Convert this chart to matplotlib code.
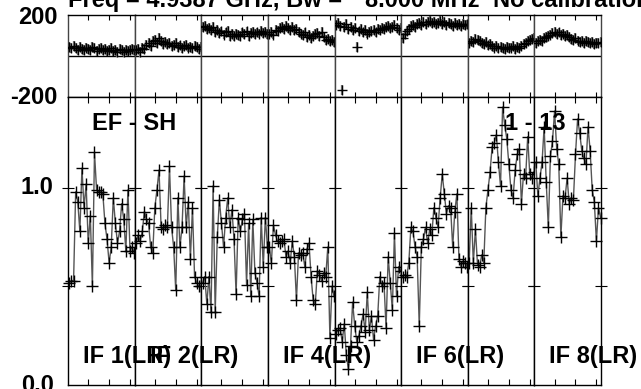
import matplotlib
matplotlib.use("Agg")
import matplotlib.pyplot as plt
import numpy as np

plt.rcParams['font.family'] = ['Liberation Sans', 'DejaVu Sans']

# ---------------- data ----------------
channels = list(range(1, 33))
if_labels = ["IF 1(LR)", "IF 2(LR)", "", "IF 4(LR)", "", "IF 6(LR)", "", "IF 8(LR)"]

amp_if1 = [0.52, 0.53, 0.53, 0.98, 0.93, 0.78, 1.10, 0.90, 1.02, 0.72, 0.86, 0.50, 1.18, 0.99, 0.98, 0.98,
           0.97, 0.82, 0.74, 0.62, 0.70, 0.95, 0.82, 0.72, 0.78, 0.92, 0.84, 0.68, 0.99, 0.68, 0.70, 0.67]
amp_if2 = [0.72, 0.76, 0.73, 0.78, 0.88, 0.84, 0.82, 0.70, 0.67, 0.90, 0.99, 1.09, 0.80, 0.79, 0.81, 0.80,
           1.11, 0.80, 0.70, 0.48, 0.95, 0.70, 0.80, 1.06, 0.80, 0.93, 0.64, 0.90, 0.55, 0.52, 0.50, 0.50]
amp_if3 = [0.52, 0.55, 0.41, 0.55, 0.37, 1.01, 0.37, 0.75, 0.94, 0.82, 0.70, 0.85, 0.95, 0.80, 0.89, 0.74,
           0.46, 0.85, 0.78, 0.84, 0.87, 0.51, 0.82, 0.45, 0.84, 0.57, 0.52, 0.45, 0.85, 0.60, 0.85, 0.70]
amp_if4 = [0.70, 0.62, 0.81, 0.76, 0.73, 0.72, 0.73, 0.74, 0.65, 0.68, 0.62, 0.73, 0.65, 0.43, 0.67, 0.66,
           0.67, 0.60, 0.69, 0.72, 0.55, 0.43, 0.41, 0.58, 0.56, 0.53, 0.57, 0.55, 0.70, 0.24, 0.50, 0.45]
amp_if5 = [0.26, 0.28, 0.29, 0.22, 0.31, 0.15, 0.08, 0.20, 0.42, 0.30, 0.22, 0.25, 0.30, 0.36, 0.27, 0.47,
           0.28, 0.35, 0.23, 0.30, 0.35, 0.55, 0.50, 0.52, 0.29, 0.65, 0.52, 0.38, 0.77, 0.45, 0.60, 0.58]
amp_if6 = [0.55, 0.56, 0.55, 0.62, 0.80, 0.78, 0.70, 0.65, 0.30, 0.70, 0.74, 0.80, 0.72, 0.79, 0.76, 0.90,
           0.85, 0.80, 0.95, 1.07, 0.97, 0.87, 0.91, 0.90, 0.70, 0.88, 0.97, 0.64, 0.60, 0.63, 0.62, 0.60]
amp_if7 = [0.62, 0.90, 0.62, 0.79, 0.61, 0.60, 0.66, 0.62, 0.90, 0.99, 1.08, 1.21, 1.23, 1.27, 1.13, 1.01,
           1.41, 1.32, 1.25, 1.12, 0.99, 0.95, 1.09, 1.17, 1.20, 0.92, 1.07, 1.05, 1.26, 1.07, 1.05, 1.08]
amp_if8 = [1.13, 0.96, 1.05, 1.13, 1.31, 1.03, 0.80, 1.16, 1.24, 1.39, 1.20, 1.12, 0.75, 0.96, 0.95, 1.05,
           0.92, 0.95, 0.94, 1.17, 1.35, 1.28, 1.19, 1.15, 1.12, 1.31, 1.19, 0.99, 0.93, 0.73, 0.90, 0.85]

ph_if1 = [45, 38, 50, 40, 32, 44, 36, 28, 42, 35, 30, 46, 38, 27, 33, 40, 29, 36, 24, 31, 38, 26, 30, 22, 34, 28, 20, 32, 25, 30, 36, 28]
ph_if2 = [28, 35, 22, 40, 33, 55, 62, 48, 75, 80, 66, 88, 72, 60, 70, 58, 64, 50, 56, 62, 45, 52, 40, 48, 55, 42, 46, 38, 50, 44, 36, 45]
ph_if3 = [140, 148, 130, 135, 125, 142, 118, 128, 112, 120, 105, 115, 122, 100, 108, 96, 110, 104, 98, 115, 108, 120, 100, 112, 118, 106, 115, 110, 122, 112, 118, 108]
ph_if4 = [110, 118, 105, 128, 122, 135, 142, 130, 148, 138, 128, 140, 125, 132, 118, 110, 102, 115, 95, 105, 88, 96, 108, 112, 100, 118, 92, 80, 85, 72, 78, 68]
ph_if5 = [150, 162, 145, -165, 140, 155, 132, 142, 128, 135, 45, 120, 130, 115, 125, 110, 118, 122, 128, 115, 130, 125, 138, 132, 140, 145, 135, 142, 150, 138, 128, 135]
ph_if6 = [90, 108, 120, 132, 145, 150, 140, 158, 162, 150, 168, 158, 165, 172, 160, 166, 155, 162, 170, 158, 164, 152, 160, 156, 148, 162, 150, 155, 145, 158, 150, 154]
ph_if7 = [62, 75, 70, 82, 78, 72, 65, 58, 68, 52, 60, 48, 42, 50, 38, 45, 40, 35, 44, 38, 42, 48, 36, 44, 40, 50, 58, 66, 72, 78, 85, 90]
ph_if8 = [65, 72, 80, 75, 88, 92, 98, 105, 112, 118, 108, 115, 102, 110, 98, 104, 92, 85, 80, 88, 76, 70, 74, 66, 72, 68, 62, 70, 60, 66, 62, 68]

amps = [amp_if1, amp_if2, amp_if3, amp_if4, amp_if5, amp_if6, amp_if7, amp_if8]
phases = [ph_if1, ph_if2, ph_if3, ph_if4, ph_if5, ph_if6, ph_if7, ph_if8]
phase_err = 24

title_a = "Freq = 4.9387 GHz, Bw ="
title_b = "8.000 MHz"
title_c = "No calibration applied"
baseline_label = "EF - SH"
time_label = "1 - 13"

# ---------------- layout ----------------
W, H = 641, 389
fig = plt.figure(figsize=(W / 100, H / 100), dpi=100)

def fx(x):
    return x / W

def fy(y):
    return 1 - y / H

x0, pw = 68.0, (601.0 - 68.0) / 8
ph_top, ph_bot, amp_bot = 15.0, 97.3, 385.0
xlim = (0.33, 32.2)
FS = 17

for i in range(8):
    left = x0 + i * pw
    axp = fig.add_axes([fx(left), fy(ph_bot), pw / W, (ph_bot - ph_top) / H])
    axa = fig.add_axes([fx(left), fy(amp_bot), pw / W, (amp_bot - ph_bot) / H])

    # phase panel
    axp.set_xlim(*xlim)
    axp.set_ylim(-200, 200)
    axp.axhline(0, color='black', lw=1.0)
    axp.errorbar(channels, phases[i], yerr=phase_err, fmt='none', ecolor='#7a7a7a', elinewidth=1.6, zorder=2)
    axp.plot(channels, phases[i], '+', color='black', ms=7, mew=1.0, zorder=3)
    axp.set_xticks([10, 20, 30])
    axp.set_yticks([])
    axp.tick_params(axis='x', which='both', direction='in', length=3.5, width=0.8,
                    top=True, bottom=True, labelbottom=False)
    for s in axp.spines.values():
        s.set_color('#444444')
        s.set_linewidth(1.0)
    axp.spines['top'].set_color('black')
    axp.spines['bottom'].set_color('black')

    # amplitude panel
    axa.set_xlim(*xlim)
    axa.set_ylim(0, 1.46)
    axa.plot(channels, amps[i], '-', color='#555555', lw=1.0, zorder=2)
    axa.plot(channels, amps[i], '+', color='black', ms=8, mew=1.0, zorder=3, clip_on=False)
    axa.set_xticks([10, 20, 30])
    axa.set_yticks([0.5, 1.0])
    axa.tick_params(axis='x', direction='in', length=4.5, width=0.8, top=True, bottom=True,
                    labelbottom=False)
    axa.tick_params(axis='y', direction='inout', length=8, width=0.8, left=True, right=True,
                    labelleft=False)
    for s in axa.spines.values():
        s.set_color('black')
        s.set_linewidth(1.0)

    if if_labels[i]:
        fig.text(fx(left + 15), fy(357), if_labels[i], fontsize=FS, fontweight='bold',
                 ha='left', va='center', zorder=10)

# axis value labels
fig.text(fx(57.5), fy(18), "200", fontsize=FS, fontweight='bold', ha='right', va='center')
fig.text(fx(57.5), fy(97), "-200", fontsize=FS, fontweight='bold', ha='right', va='center')
fig.text(fx(53.5), fy(188), "1.0", fontsize=FS, fontweight='bold', ha='right', va='center')
fig.text(fx(53.5), fy(386), "0.0", fontsize=FS, fontweight='bold', ha='right', va='center')

# title and annotations
fig.text(fx(68), fy(7), title_a, fontsize=FS, fontweight='bold', ha='left', va='baseline')
fig.text(fx(365), fy(7), title_b, fontsize=FS, fontweight='bold', ha='left', va='baseline')
fig.text(fx(493), fy(7), title_c, fontsize=FS, fontweight='bold', ha='left', va='baseline')
fig.text(fx(92), fy(123), baseline_label, fontsize=FS, fontweight='bold', ha='left', va='center', zorder=10)
fig.text(fx(505), fy(123), time_label, fontsize=FS, fontweight='bold', ha='left', va='center', zorder=1)

fig.savefig("out.png", dpi=100)
